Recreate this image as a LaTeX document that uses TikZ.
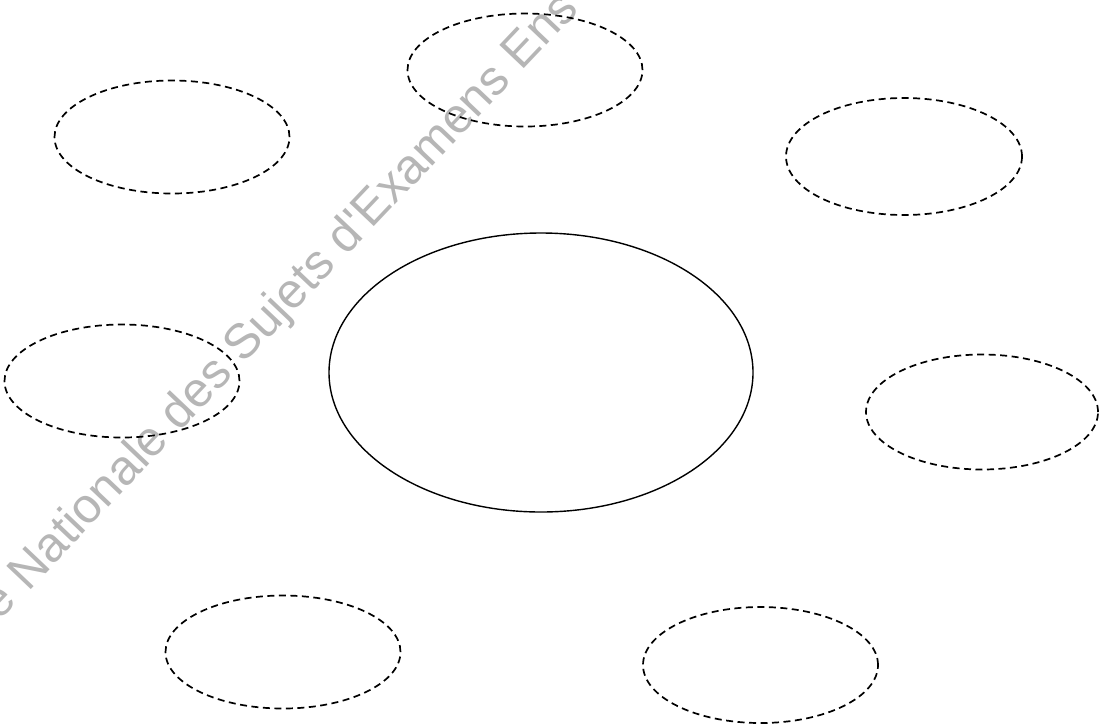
\documentclass[tikz,border=0pt]{standalone}
\usepackage{fontspec}
\newfontfamily\wmfont{Liberation Sans}
\usetikzlibrary{shapes.geometric}
\definecolor{wmgray}{RGB}{182,182,182}
\tikzset{
  bubble/.style={ellipse, draw=black, line width=1.7pt, dash pattern=on 7pt off 4.5pt,
    minimum width=235pt, minimum height=113pt, inner sep=0pt},
  core/.style={ellipse, draw=black, line width=1.4pt,
    minimum width=424pt, minimum height=279pt, inner sep=0pt},
  watermark/.style={font=\wmfont\fontsize{49}{49}\selectfont, text=wmgray, rotate=46.5, inner sep=0pt}
}
\begin{document}
\begin{tikzpicture}[x=1pt,y=-1pt]
\useasboundingbox (0,0) rectangle (1099,724);
\clip (0,0) rectangle (1099,724);
\fill[white] (0,0) rectangle (1099,724);
\node[watermark, anchor=base] (wm) at (290,316) {e Nationale des Sujets d'Examens Ens};
\node[core] (center) at (541,372.5) {};
\node[bubble] (tl) at (172,137) {};
\node[bubble] (tc) at (525,70) {};
\node[bubble, minimum width=236pt, minimum height=117pt] (tr) at (904,156.5) {};
\node[bubble] (ml) at (122,381) {};
\node[bubble, minimum width=232pt, minimum height=115pt] (mr) at (982,412) {};
\node[bubble] (bl) at (283,652) {};
\node[bubble, minimum width=235pt, minimum height=116pt] (br) at (760.5,665) {};
\end{tikzpicture}
\end{document}
